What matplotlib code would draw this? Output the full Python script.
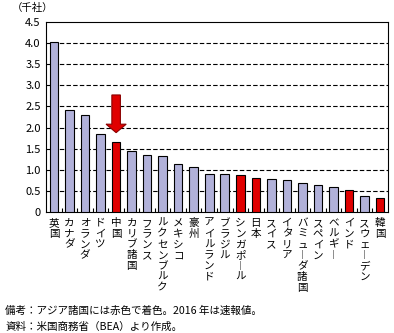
import matplotlib
matplotlib.use('Agg')
import matplotlib.pyplot as plt
import matplotlib.transforms as mtransforms
import numpy as np

plt.rcParams['font.family'] = ['Noto Sans CJK JP', 'DejaVu Sans']

# 国・地域と値（千社）
countries = ['英国', 'カナダ', 'オランダ', 'ドイツ', '中国', 'カリブ諸国', 'フランス',
             'ルクセンブルク', 'メキシコ', '豪州', 'アイルランド', 'ブラジル', 'シンガポール',
             '日本', 'スイス', 'イタリア', 'バミューダ諸国', 'スペイン', 'ベルギー', 'インド',
             'スウェーデン', '韓国']
values = [4.01, 2.41, 2.29, 1.84, 1.65, 1.44, 1.35, 1.33, 1.13, 1.06, 0.90, 0.90, 0.87,
          0.80, 0.78, 0.755, 0.685, 0.64, 0.59, 0.52, 0.38, 0.33]
asia = ['中国', 'シンガポール', '日本', 'インド', '韓国']
yticks = [0, 0.5, 1.0, 1.5, 2.0, 2.5, 3.0, 3.5, 4.0, 4.5]
ytick_labels = ['0', '0.5', '1.0', '1.5', '2.0', '2.5', '3.0', '3.5', '4.0', '4.5']

fig = plt.figure(figsize=(3.94, 3.33), dpi=100)
ax = fig.add_axes([0.1175, 0.3625, 0.8665, 0.5724])

x = np.arange(len(countries))
colors = ['#e00000' if c in asia else '#b1b1d9' for c in countries]
ax.bar(x, values, width=0.55, color=colors, edgecolor='black', linewidth=0.8, zorder=3)

ax.set_xlim(-0.5, len(countries) - 0.5)
ax.set_ylim(0, 4.5)
ax.set_yticks(yticks)
ax.set_yticklabels(ytick_labels, fontsize=8)
ax.tick_params(axis='y', length=0, pad=4)

# 棒の間の小さい目盛り
ax.set_xticks(np.arange(0.5, len(countries) - 0.5))
ax.set_xticklabels([])
ax.tick_params(axis='x', direction='in', length=3, width=0.8)

for y in yticks[1:-1]:
    ax.axhline(y, color='black', linestyle=(0, (4, 2)), linewidth=0.8, zorder=1)
for s in ax.spines.values():
    s.set_linewidth(0.8)

# 縦書きラベル
trans = mtransforms.blended_transform_factory(ax.transData, ax.transAxes)
for i, c in enumerate(countries):
    label = '\n'.join(ch if ch != 'ー' else '︱' for ch in c)
    ax.text(i, -0.03, label, transform=trans, ha='center', va='top',
            fontsize=7.6, linespacing=1.1)

# 中国の矢印
ci = countries.index('中国')
ax.arrow(ci, 2.77, 0, -0.89, width=0.55, head_width=1.3, head_length=0.2,
         length_includes_head=True, fc='#e00000', ec='#8a0000', linewidth=0.8, zorder=4)

fig.text(0.083, 0.977, '（千社）', ha='center', va='center', fontsize=7.5)
fig.text(0.013, 0.068, '備考：アジア諸国には赤色で着色。2016 年は速報値。', ha='left', va='center', fontsize=7.6)
fig.text(0.013, 0.02, '資料：米国商務省（BEA）より作成。', ha='left', va='center', fontsize=7.6)

fig.savefig('out.png', dpi=100)
